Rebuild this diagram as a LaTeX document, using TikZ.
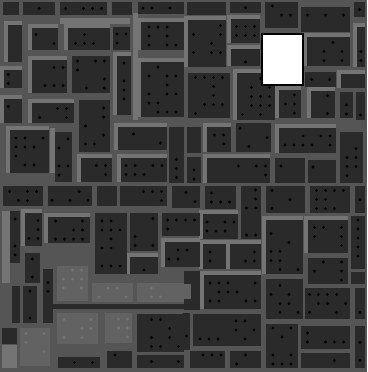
\documentclass[tikz,border=0pt]{standalone}
\usepackage{xcolor}
\pgfdeclarelayer{bg}
\pgfdeclarelayer{hl}
\pgfsetlayers{bg,hl,main}

\definecolor{frame}{HTML}{555555}
\definecolor{blockdark}{HTML}{2A2A2A}
\definecolor{edgelight}{HTML}{747474}
\definecolor{blockgray}{HTML}{626262}

\tikzset{
    block/.style={fill=blockdark},
    grayblock/.style={fill=blockgray},
    edge/.style={fill=edgelight},
    pin/.style={fill=black},
    graypin/.style={fill=black!55},
    window/.style={fill=white, draw=black, line width=2mm}
}

% dots on a 9-unit grid inside a block, some left out
\newcommand{\pindots}[5]{%
    \pgfmathtruncatemacro{\pnx}{max(0,floor((#3-#1-8)/9))}%
    \pgfmathtruncatemacro{\pny}{max(0,floor((#4-#2-8)/9))}%
    \pgfmathsetmacro{\pxo}{#1+(#3-#1-9*\pnx)/2}%
    \pgfmathsetmacro{\pyo}{#2+(#4-#2-9*\pny)/2}%
    \foreach \i in {0,...,\pnx}{%
        \foreach \j in {0,...,\pny}{%
            \pgfmathparse{rnd}%
            \ifdim\pgfmathresult pt<0.45pt
                \fill[#5] ({\pxo+9*\i},{\pyo+9*\j}) circle (1.6);
            \fi
        }}}
\newcommand{\blk}[4]{\fill[block] (#1,#2) rectangle (#3,#4); \pindots{#1}{#2}{#3}{#4}{pin}}
\newcommand{\lblk}[4]{%
    \begin{pgfonlayer}{hl}\fill[edge] ({#1-4},{#2-4}) rectangle (#3,#4);\end{pgfonlayer}%
    \blk{#1}{#2}{#3}{#4}}
\newcommand{\gblk}[4]{\fill[grayblock] (#1,#2) rectangle (#3,#4); \pindots{#1}{#2}{#3}{#4}{graypin}}

\begin{document}
\begin{tikzpicture}[x=1mm, y=-1mm]
    \pgfmathsetseed{11}
    \useasboundingbox (0,0) rectangle (367,372);
    \begin{pgfonlayer}{bg}
        \fill[frame] (0,0) rectangle (367,372);
    \end{pgfonlayer}

    % --- Loose light strips ---
    \begin{pgfonlayer}{hl}
        \fill[edge] (60,18) rectangle (130,24);
        \fill[edge] (133,13) rectangle (138,120);
        \fill[edge] (50,128) rectangle (55,173);
        \fill[edge] (2,211) rectangle (10,283);
        \fill[edge] (2,345) rectangle (17,368);
    \end{pgfonlayer}

    % --- Top left ---
    \blk{3}{2}{19}{15}
    \blk{23}{2}{55}{15}
    \blk{60}{2}{107}{15}
    \blk{112}{2}{132}{15}
    \blk{138}{2}{184}{14}
    \lblk{8}{25}{22}{62}
    \lblk{32}{28}{58}{50}
    \lblk{68}{28}{110}{50}
    \blk{113}{27}{130}{50}
    \lblk{141}{22}{184}{50}
    \lblk{4}{70}{22}{88}
    \lblk{32}{60}{67}{93}
    \blk{72}{56}{110}{93}
    \lblk{117}{56}{131}{115}
    \lblk{141}{62}{184}{117}
    \lblk{4}{99}{22}{123}
    \lblk{32}{103}{74}{123}
    \blk{79}{100}{110}{152}
    \lblk{10}{130}{49}{173}
    \blk{55}{132}{72}{182}
    \lblk{81}{158}{112}{182}
    \lblk{118}{127}{167}{150}
    \blk{169}{127}{184}{183}
    \lblk{121}{158}{167}{182}

    % --- Top right ---
    \blk{187}{2}{226}{15}
    \blk{230}{2}{261}{13}
    \blk{265}{2}{298}{28}
    \blk{301}{7}{350}{32}
    \blk{354}{2}{365}{17}
    \lblk{188}{20}{226}{67}
    \lblk{231}{19}{260}{43}
    \lblk{231}{49}{260}{66}
    \lblk{307}{37}{350}{66}
    \lblk{357}{27}{365}{67}
    \blk{305}{72}{336}{87}
    \lblk{341}{74}{365}{88}
    \blk{188}{73}{230}{118}
    \lblk{237}{73}{275}{120}
    \lblk{279}{90}{301}{118}
    \lblk{311}{91}{335}{118}
    \blk{340}{92}{353}{118}
    \blk{356}{92}{365}{120}
    \blk{187}{127}{201}{153}
    \lblk{207}{127}{231}{152}
    \blk{236}{123}{271}{152}
    \lblk{279}{128}{336}{153}
    \blk{340}{132}{363}{183}
    \blk{187}{157}{201}{183}
    \lblk{207}{158}{270}{183}
    \blk{275}{158}{305}{183}
    \blk{308}{160}{336}{183}

    % --- Bottom left ---
    \blk{3}{186}{43}{206}
    \blk{48}{186}{92}{206}
    \blk{97}{186}{117}{206}
    \blk{120}{186}{167}{206}
    \blk{172}{186}{200}{208}
    \blk{10}{211}{20}{263}
    \lblk{25}{213}{42}{246}
    \lblk{48}{217}{90}{243}
    \blk{95}{213}{127}{274}
    \blk{130}{213}{158}{251}
    \blk{162}{213}{200}{236}
    \lblk{165}{242}{200}{267}
    \lblk{130}{257}{158}{274}
    \blk{25}{253}{40}{283}
    \blk{43}{269}{53}{323}
    \blk{12}{286}{20}{323}
    \blk{23}{286}{37}{323}
    \gblk{57}{266}{88}{301}
    \gblk{92}{283}{133}{302}
    \gblk{137}{283}{184}{302}
    \fill[block] (45,304) rectangle (184,309);
    \gblk{57}{313}{98}{344}
    \gblk{105}{313}{132}{343}
    \gblk{20}{328}{50}{366}
    \blk{137}{314}{184}{352}
    \blk{2}{328}{17}{344}
    \blk{58}{357}{100}{368}
    \blk{107}{351}{132}{368}
    \blk{137}{355}{184}{368}

    % --- Bottom right ---
    \blk{205}{186}{236}{209}
    \blk{241}{186}{261}{239}
    \blk{266}{186}{305}{213}
    \blk{310}{186}{350}{213}
    \blk{355}{186}{365}{213}
    \lblk{203}{214}{238}{239}
    \lblk{266}{220}{303}{274}
    \lblk{308}{220}{348}{253}
    \blk{351}{216}{365}{269}
    \lblk{203}{244}{226}{269}
    \lblk{230}{244}{261}{269}
    \blk{308}{258}{348}{284}
    \blk{351}{272}{365}{284}
    \fill[block] (184,271) rectangle (200,310);
    \fill[grayblock] (184,284) rectangle (191,299);
    \lblk{204}{275}{261}{309}
    \blk{266}{279}{303}{319}
    \blk{305}{288}{350}{319}
    \blk{355}{288}{365}{319}
    \blk{183}{313}{190}{350}
    \blk{193}{314}{261}{346}
    \blk{266}{324}{298}{368}
    \blk{301}{326}{350}{349}
    \blk{355}{326}{365}{368}
    \blk{190}{351}{225}{368}
    \blk{230}{351}{261}{368}
    \blk{301}{353}{350}{368}

    % --- White window ---
    \draw[window] (262,34) rectangle (303,85);
\end{tikzpicture}
\end{document}
